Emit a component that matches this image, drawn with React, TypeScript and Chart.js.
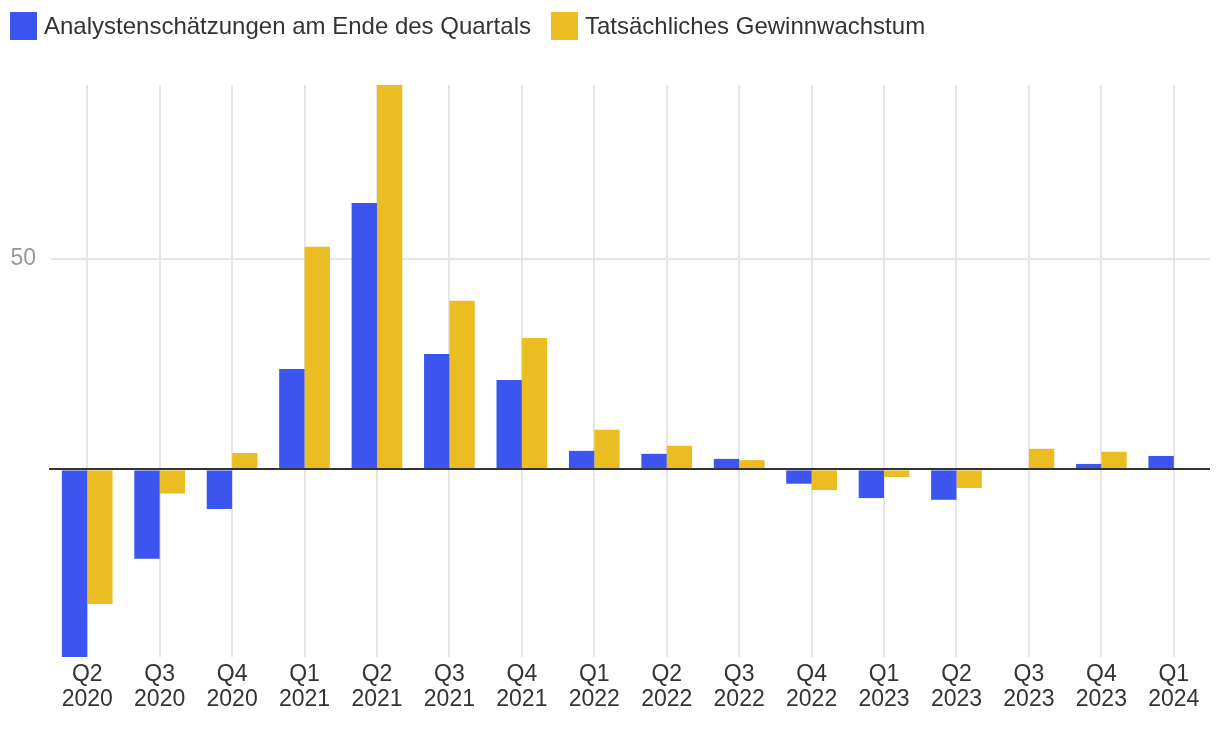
import React, { useEffect, useRef } from "react";
import { Chart, registerables } from "chart.js";

Chart.register(...registerables);

const categories: string[][] = [
  ["Q2", "2020"], ["Q3", "2020"], ["Q4", "2020"],
  ["Q1", "2021"], ["Q2", "2021"], ["Q3", "2021"], ["Q4", "2021"],
  ["Q1", "2022"], ["Q2", "2022"], ["Q3", "2022"], ["Q4", "2022"],
  ["Q1", "2023"], ["Q2", "2023"], ["Q3", "2023"], ["Q4", "2023"],
  ["Q1", "2024"],
];

const analystEstimates: (number | null)[] = [
  -44.5, -21.2, -9.4, 23.8, 63.2, 27.4, 21.2, 4.4, 3.7, 2.5, -3.4, -6.8, -7.2, null, 1.3, 3.2,
];

const actualGrowth: (number | null)[] = [
  -31.9, -5.7, 3.9, 52.8, 91.2, 40.0, 31.2, 9.4, 5.6, 2.2, -4.9, -1.8, -4.4, 4.9, 4.2, null,
];

const seriesNames = ["Analystenschätzungen am Ende des Quartals", "Tatsächliches Gewinnwachstum"];
const seriesColors = ["#3b55ee", "#ebbd23"];
const yTicks = [0, 50];
const yMin = -44.5;
const yMax = 91.2;

const FONT = "'Liberation Sans', Arial, Helvetica, sans-serif";

const zeroLinePlugin = {
  id: "zeroLine",
  afterDatasetsDraw(chart: any) {
    const y = chart.scales.y;
    const area = chart.chartArea;
    const py = Math.round(y.getPixelForValue(0));
    const ctx = chart.ctx;
    ctx.save();
    ctx.strokeStyle = "#333333";
    ctx.lineWidth = 2;
    ctx.beginPath();
    ctx.moveTo(area.left - 2, py);
    ctx.lineTo(area.right, py);
    ctx.stroke();
    ctx.restore();
  },
};

export default function App() {
  const canvasRef = useRef<HTMLCanvasElement | null>(null);

  useEffect(() => {
    if (!canvasRef.current) return;
    const chart = new Chart(canvasRef.current, {
      type: "bar",
      data: {
        labels: categories,
        datasets: [
          {
            label: seriesNames[0],
            data: analystEstimates,
            backgroundColor: seriesColors[0],
            borderWidth: 0,
            categoryPercentage: 0.7,
            barPercentage: 1.0,
          },
          {
            label: seriesNames[1],
            data: actualGrowth,
            backgroundColor: seriesColors[1],
            borderWidth: 0,
            categoryPercentage: 0.7,
            barPercentage: 1.0,
          },
        ],
      },
      options: {
        responsive: false,
        animation: false,
        devicePixelRatio: 1,
        layout: { padding: { top: 85, right: 10, left: 0, bottom: 0 } },
        plugins: {
          legend: { display: false },
          tooltip: { enabled: false },
        },
        scales: {
          x: {
            offset: true,
            border: { display: false },
            grid: { offset: false, drawTicks: false, color: "#e6e6e6", lineWidth: 2 },
            ticks: {
              color: "#333333",
              padding: 6,
              maxRotation: 0,
              autoSkip: false,
              font: { family: FONT, size: 23, lineHeight: 1.05 },
            },
            afterFit: (s: any) => {
              s.height = 75;
            },
          },
          y: {
            min: yMin,
            max: yMax,
            border: { display: false },
            afterBuildTicks: (s: any) => {
              s.ticks = yTicks.map((v) => ({ value: v }));
            },
            grid: {
              drawTicks: false,
              lineWidth: 2,
              color: (c: any) => (c.tick && c.tick.value === 0 ? "rgba(0,0,0,0)" : "#e6e6e6"),
            },
            ticks: {
              color: "#999999",
              padding: 15,
              font: { family: FONT, size: 23 },
              callback: (v: any) => (Number(v) === 0 ? "" : String(v)),
            },
            afterFit: (s: any) => {
              s.width = 51;
            },
          },
        },
      },
      plugins: [zeroLinePlugin],
    });
    return () => chart.destroy();
  }, []);

  return (
    <div style={{ position: "fixed", left: 0, top: 0, width: 1220, height: 732, background: "#fff" }}>
      <canvas ref={canvasRef} width={1220} height={732} style={{ position: "absolute", left: 0, top: 0 }} />
      <div
        style={{
          position: "absolute",
          left: 10,
          top: 12,
          height: 28,
          display: "flex",
          alignItems: "center",
          fontFamily: FONT,
          fontSize: 24,
          color: "#333333",
          lineHeight: "28px",
          whiteSpace: "nowrap",
        }}
      >
        {seriesNames.map((name, i) => (
          <div key={name} style={{ display: "flex", alignItems: "center", marginRight: i === 0 ? 20 : 0 }}>
            <span style={{ display: "inline-block", width: 27, height: 28, background: seriesColors[i], marginRight: 7 }} />
            <span>{name}</span>
          </div>
        ))}
      </div>
    </div>
  );
}
